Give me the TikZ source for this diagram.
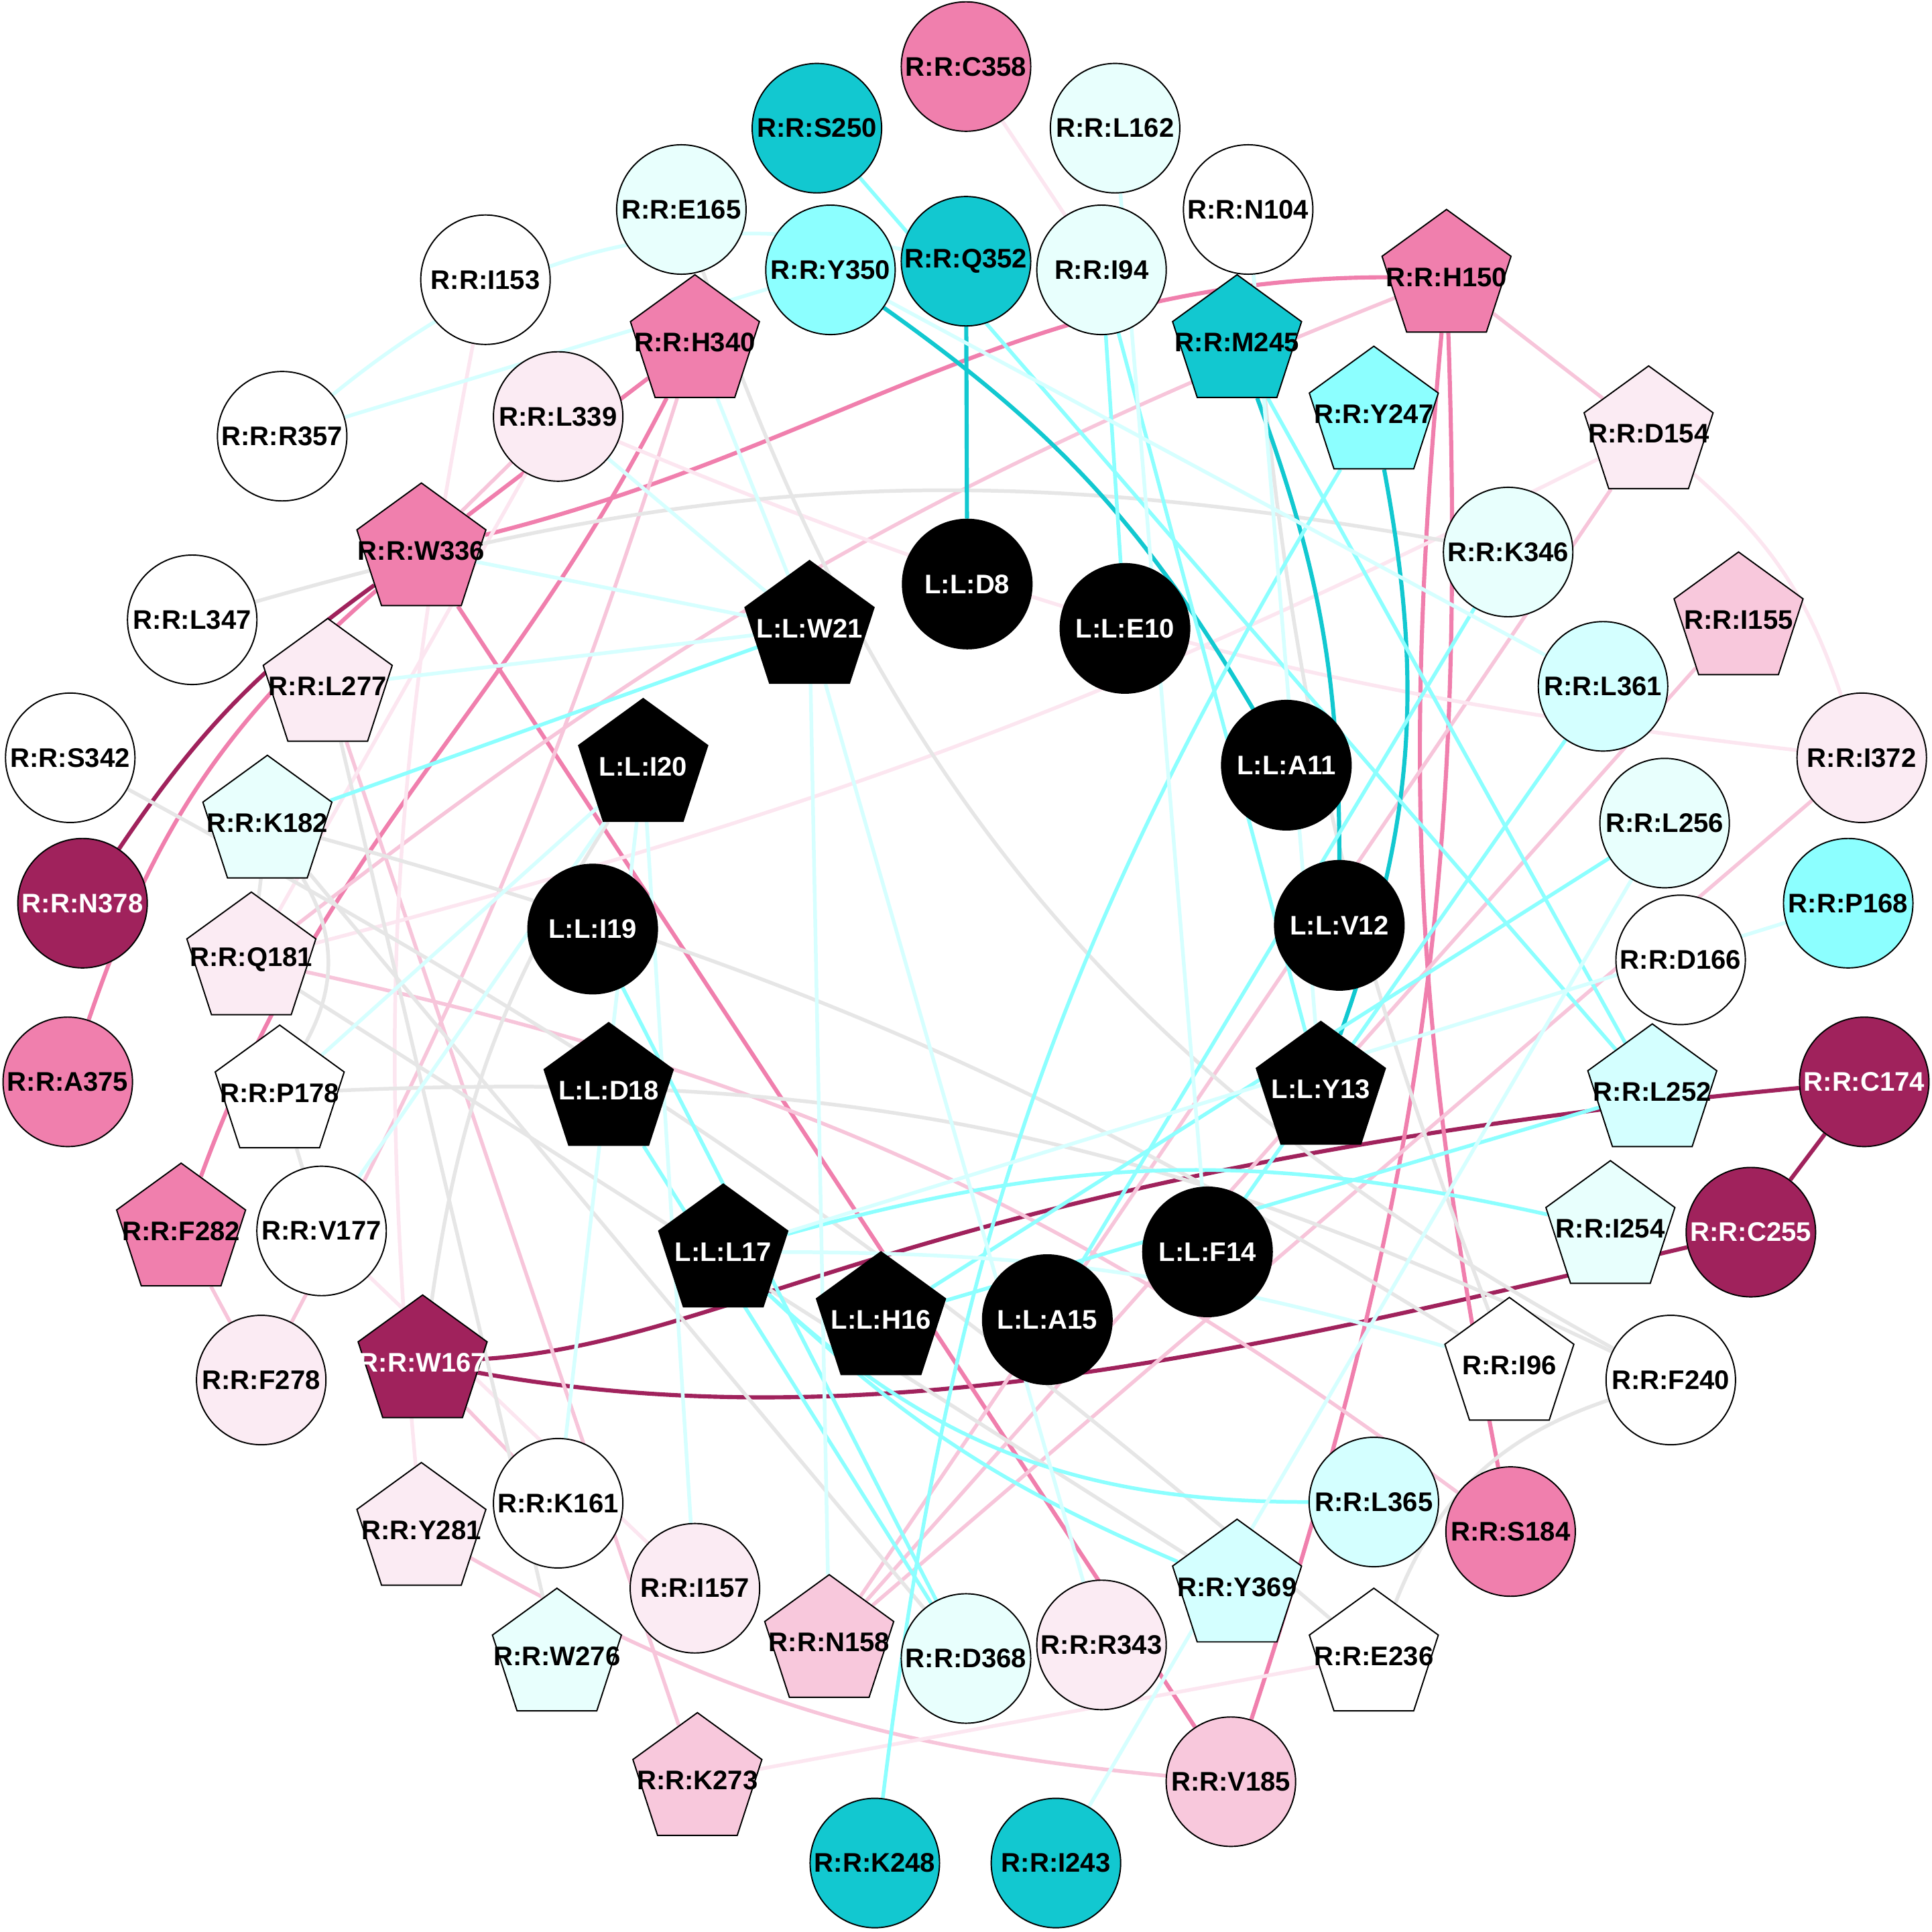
\documentclass[tikz,border=0pt]{standalone}
\usepackage{fontspec}
\setmainfont{Liberation Sans}
\usetikzlibrary{shapes.geometric}

\pgfdeclarelayer{edges}
\pgfsetlayers{edges,main}

\definecolor{pkN}{HTML}{F07FAD}
\definecolor{lpN}{HTML}{F8C8DC}
\definecolor{vlpN}{HTML}{FBEBF3}
\definecolor{dmN}{HTML}{A0225C}
\definecolor{dcN}{HTML}{12C8D0}
\definecolor{lcN}{HTML}{8CFFFF}
\definecolor{ccN}{HTML}{D4FFFF}
\definecolor{vlcN}{HTML}{E8FFFD}
\definecolor{grE}{HTML}{E6E6E6}
\definecolor{lpE}{HTML}{F7C5DA}
\definecolor{vlpE}{HTML}{FCE6F0}
\definecolor{vlcE}{HTML}{D6FFFF}

\newcommand{\resname}[1]{\makebox[0pt]{#1}}

\begin{document}
\begin{tikzpicture}[x=0.01cm,y=-0.01cm,
    res/.style={draw=black,line width=0.3pt,inner sep=0pt,
      font=\fontsize{6.2}{7}\selectfont\bfseries},
    resc/.style={res,circle,minimum size=1.05cm},
    resp/.style={res,regular polygon,regular polygon sides=5,minimum size=1.1cm},
    ligc/.style={resc,fill=black,text=white},
    ligp/.style={resp,fill=black,text=white},
    dmE/.style={draw=dmN,line width=0.95pt},
    pkE/.style={draw=pkN,line width=0.95pt},
    lpE/.style={draw=lpE,line width=0.85pt},
    vlpE/.style={draw=vlpE,line width=0.85pt},
    grE/.style={draw=grE,line width=0.85pt},
    dcE/.style={draw=dcN,line width=0.95pt},
    cyE/.style={draw=lcN,line width=0.85pt},
    vlcE/.style={draw=vlcE,line width=0.85pt}]

    \useasboundingbox (0,0) rectangle (1568,1568);

    % ligand
    \foreach \n/\x/\y in {D8/785/474, E10/913/510, A11/1044/621, I19/481/754,
      V12/1087/751, F14/980/1016, A15/850/1071}
    { \node[ligc] (l\n) at (\x,\y) {\resname{L:L:\n}}; }
    \foreach \n/\x/\y in {W21/657/510, I20/522/622, D18/494/885,
      Y13/1072/884, L17/587/1016, H16/715/1071}
    { \node[ligp] (l\n) at (\x,\y) {\resname{L:L:\n}}; }

    % receptor, circles
    \foreach \n/\x/\y in {C358/784/54, A375/55/878, S184/1226/1243}
    { \node[resc,fill=pkN] (\n) at (\x,\y) {\resname{R:R:\n}}; }
    \foreach \n/\x/\y in {V185/999/1446}
    { \node[resc,fill=lpN] (\n) at (\x,\y) {\resname{R:R:\n}}; }
    \foreach \n/\x/\y in {L339/453/338, I372/1511/615, F278/212/1120,
      I157/564/1289, R343/894/1335}
    { \node[resc,fill=vlpN] (\n) at (\x,\y) {\resname{R:R:\n}}; }
    \foreach \n/\x/\y in {N378/67/733, C174/1513/878, C255/1421/1000}
    { \node[resc,fill=dmN,text=white] (\n) at (\x,\y) {\resname{R:R:\n}}; }
    \foreach \n/\x/\y in {S250/663/104, Q352/784/212, K248/710/1512, I243/857/1512}
    { \node[resc,fill=dcN] (\n) at (\x,\y) {\resname{R:R:\n}}; }
    \foreach \n/\x/\y in {Y350/674/219, P168/1500/733}
    { \node[resc,fill=lcN] (\n) at (\x,\y) {\resname{R:R:\n}}; }
    \foreach \n/\x/\y in {L361/1301/557, L365/1115/1219}
    { \node[resc,fill=ccN] (\n) at (\x,\y) {\resname{R:R:\n}}; }
    \foreach \n/\x/\y in {E165/553/170, L162/905/104, I94/894/219,
      K346/1224/448, L256/1351/668, D368/784/1346}
    { \node[resc,fill=vlcN] (\n) at (\x,\y) {\resname{R:R:\n}}; }
    \foreach \n/\x/\y in {N104/1013/170, I153/394/227, R357/229/354,
      L347/156/503, S342/57/615, D166/1364/779, V177/261/999,
      F240/1356/1120, K161/453/1220}
    { \node[resc,fill=white] (\n) at (\x,\y) {\resname{R:R:\n}}; }

    % receptor, pentagons
    \foreach \n/\x/\y in {H150/1174/225, H340/564/278, W336/342/447, F282/147/999}
    { \node[resp,fill=pkN] (\n) at (\x,\y) {\resname{R:R:\n}}; }
    \foreach \n/\x/\y in {I155/1411/503, N158/673/1333, K273/566/1445}
    { \node[resp,fill=lpN] (\n) at (\x,\y) {\resname{R:R:\n}}; }
    \foreach \n/\x/\y in {D154/1338/352, L277/266/557, Q181/204/779, Y281/342/1242}
    { \node[resp,fill=vlpN] (\n) at (\x,\y) {\resname{R:R:\n}}; }
    \foreach \n/\x/\y in {W167/343/1106}
    { \node[resp,fill=dmN,text=white] (\n) at (\x,\y) {\resname{R:R:\n}}; }
    \foreach \n/\x/\y in {M245/1004/278}
    { \node[resp,fill=dcN] (\n) at (\x,\y) {\resname{R:R:\n}}; }
    \foreach \n/\x/\y in {Y247/1115/336}
    { \node[resp,fill=lcN] (\n) at (\x,\y) {\resname{R:R:\n}}; }
    \foreach \n/\x/\y in {L252/1341/886, Y369/1004/1288}
    { \node[resp,fill=ccN] (\n) at (\x,\y) {\resname{R:R:\n}}; }
    \foreach \n/\x/\y in {K182/217/668, I254/1307/997, W276/452/1344}
    { \node[resp,fill=vlcN] (\n) at (\x,\y) {\resname{R:R:\n}}; }
    \foreach \n/\x/\y in {P178/227/887, I96/1225/1108, E236/1115/1344}
    { \node[resp,fill=white] (\n) at (\x,\y) {\resname{R:R:\n}}; }

    \begin{pgfonlayer}{edges}
    % dark magenta
    \draw[dmE] (W167) .. controls (600,1090) and (750,950) .. (C174);
    \draw[dmE] (W167) .. controls (700,1170) and (1000,1100) .. (C255);
    \draw[dmE] (C174) -- (C255);
    \draw[dmE] (W336) to[bend right=10] (N378);

    % pink
    \draw[pkE] (H150) to[out=180,in=14] (W336);
    \draw[pkE] (H340) -- (W336);
    \draw[pkE] (W336) to[bend right=15] (A375);
    \draw[pkE] (W336) -- (V185);
    \draw[pkE] (H340) to[out=243,in=70] (F282);
    \draw[pkE] (H150) to[bend left=10] (V185);
    \draw[pkE] (H150) to[bend right=8] (S184);

    % light pink
    \draw[lpE] (H150) -- (D154);
    \draw[lpE] (H340) to[bend left=5] (F278);
    \draw[lpE] (W336) -- (L339);
    \draw[lpE] (D154) -- (N158);
    \draw[lpE] (I155) -- (N158);
    \draw[lpE] (I372) -- (N158);
    \draw[lpE] (L277) -- (K273);
    \draw[lpE] (Q181) to[bend left=12] (S184);
    \draw[lpE] (H150) to[bend right=8] (Q181);
    \draw[lpE] (Y281) to[bend right=12] (V185);
    \draw[lpE] (W167) -- (K161);
    \draw[lpE] (F282) -- (F278);

    % very light pink
    \draw[vlpE] (C358) -- (I94);
    \draw[vlpE] (Q181) -- (L339);
    \draw[vlpE] (Q181) to[bend right=6] (D154);
    \draw[vlpE] (L339) to[bend right=8] (I372);
    \draw[vlpE] (D154) to[bend left=15] (I372);
    \draw[vlpE] (I153) to[bend right=8] (Y281);
    \draw[vlpE] (K273) -- (E236);
    \draw[vlpE] (V177) -- (I157);

    % grey
    \draw[grE] (L347) to[bend left=13] (K346);
    \draw[grE] (P178) to[bend left=14] (F240);
    \draw[grE] (K182) to[bend left=8] (I96);
    \draw[grE] (E165) to[bend right=21] (F240);
    \draw[grE] (N104) to[bend right=8] (I96);
    \draw[grE] (F240) to[bend right=25] (E236);
    \draw[grE] (K182) -- (Q181);
    \draw[grE] (K182) to[bend left=30] (P178);
    \draw[grE] (P178) -- (V177);
    \draw[grE] (L277) -- (W276);
    \draw[grE] (K182) -- (D368);
    \draw[grE] (S342) to[bend left=6] (E236);
    \draw[grE] (lI20) to[bend right=12] (W167);
    \draw[grE] (Q181) -- (Y369);

    % dark cyan
    \draw[dcE] (Q352) -- (lD8);
    \draw[dcE] (Y350) to[bend left=12] (lA11);
    \draw[dcE] (M245) to[bend left=10] (lV12);
    \draw[dcE] (Y247) to[bend left=15] (lY13);

    % cyan
    \draw[cyE] (S250) -- (L252);
    \draw[cyE] (I94) -- (lE10);
    \draw[cyE] (I94) -- (lY13);
    \draw[cyE] (lW21) -- (K182);
    \draw[cyE] (Y247) to[bend right=12] (K248);
    \draw[cyE] (lH16) -- (L256);
    \draw[cyE] (lH16) -- (L252);
    \draw[cyE] (lL17) to[bend left=14] (I254);
    \draw[cyE] (lL17) to[out=-43,in=180] (L365);
    \draw[cyE] (lL17) to[bend right=10] (Y369);
    \draw[cyE] (lD18) -- (D368);
    \draw[cyE] (lI19) -- (D368);
    \draw[cyE] (L361) -- (lF14);
    \draw[cyE] (K346) -- (lA15);
    \draw[cyE] (M245) -- (L252);

    % very light cyan
    \draw[vlcE] (R357) -- (Y350);
    \draw[vlcE] (R357) to[bend left=25] (Q352);
    \draw[vlcE] (L339) -- (lW21);
    \draw[vlcE] (W336) -- (lW21);
    \draw[vlcE] (H340) -- (lW21);
    \draw[vlcE] (L277) -- (lW21);
    \draw[vlcE] (P178) -- (lI20);
    \draw[vlcE] (V177) -- (lI20);
    \draw[vlcE] (Y350) -- (L361);
    \draw[vlcE] (lW21) -- (N158);
    \draw[vlcE] (R343) -- (lW21);
    \draw[vlcE] (P168) -- (lL17);
    \draw[vlcE] (I243) -- (L256);
    \draw[vlcE] (L162) -- (lF14);
    \draw[vlcE] (N104) -- (lY13);
    \draw[vlcE] (K161) -- (lI20);
    \draw[vlcE] (lI20) -- (I157);
    \draw[vlcE] (lL17) to[bend left=8] (I96);
    \end{pgfonlayer}

\end{tikzpicture}
\end{document}
